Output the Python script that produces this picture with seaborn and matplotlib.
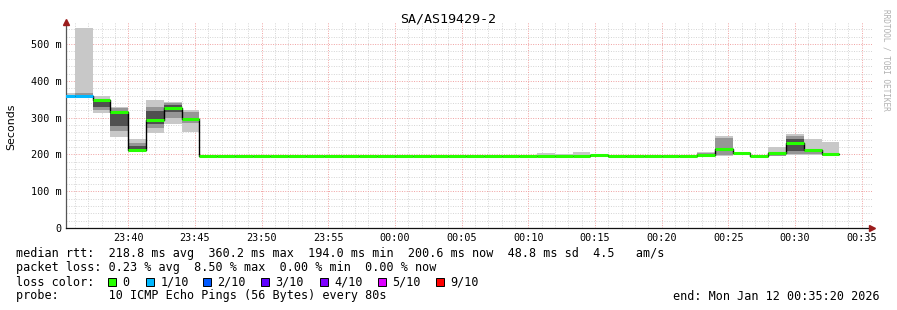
import numpy as np
import pandas as pd
import matplotlib
matplotlib.use("Agg")
import matplotlib.pyplot as plt
import matplotlib.dates as mdates
from matplotlib.patches import Rectangle
import seaborn as sns

# ---------------- data ----------------
title = "SA/AS19429-2"
first_step = "2026-01-11 23:34:40"
step_seconds = 80
view_start = "2026-01-11 23:35:20"
view_end = "2026-01-12 00:35:20"

nan = np.nan
median_ms = [360, 360, 348, 315, 212, 293, 325, 296, 195,
             195, 195, 195, 195, 195, 195, 195, 195, 195,
             195, 195, 195, 195, 195, 195, 195, 195, 195,
             196, 195, 196, 199,
             195, 195, 195, 195, 195,
             199, 216, 205, 196, 205, 232, 211, 201]
loss_level = [1, 1, 0, 0, 0, 0, 0, 0, 0,
              0, 0, 0, 0, 0, 0, 0, 0, 0,
              0, 0, 0, 0, 0, 0, 0, 0, 0,
              0, 0, 0, 0,
              0, 0, 0, 0, 0,
              0, 0, 0, 0, 0, 0, 0, 0]
smoke_lo = [353, 353, 313, 248, 207, 259, 283, 261, 195,
            nan, nan, nan, nan, nan, nan, nan, nan, nan,
            nan, nan, nan, nan, nan, nan, nan, nan, nan,
            195, 195, 195, 195,
            nan, nan, nan, nan, nan,
            196, 196, 196, nan, 196, 199, 199, 196]
smoke_hi = [367, 543, 359, 329, 242, 348, 343, 322, 214,
            nan, nan, nan, nan, nan, nan, nan, nan, nan,
            nan, nan, nan, nan, nan, nan, nan, nan, nan,
            204, 201, 206, 217,
            nan, nan, nan, nan, nan,
            206, 250, 225, nan, 221, 255, 242, 235]
mid_lo = [nan, 355, 322, 265, 210, 272, 300, 285, 195,
          nan, nan, nan, nan, nan, nan, nan, nan, nan,
          nan, nan, nan, nan, nan, nan, nan, nan, nan,
          nan, nan, nan, 196,
          nan, nan, nan, nan, nan,
          197, 199, 196, nan, 196, 202, 200, 196]
mid_hi = [nan, 366, 352, 325, 232, 330, 340, 315, 212,
          nan, nan, nan, nan, nan, nan, nan, nan, nan,
          nan, nan, nan, nan, nan, nan, nan, nan, nan,
          nan, nan, nan, 210,
          nan, nan, nan, nan, nan,
          203, 245, 210, nan, 206, 250, 216, 205]
core_lo = [nan, nan, 330, 278, 213, 282, 315, 290, nan,
           nan, nan, nan, nan, nan, nan, nan, nan, nan,
           nan, nan, nan, nan, nan, nan, nan, nan, nan,
           nan, nan, nan, nan,
           nan, nan, nan, nan, nan,
           nan, 203, nan, nan, nan, 210, 205, nan]
core_hi = [nan, nan, 345, 318, 222, 318, 335, 306, nan,
           nan, nan, nan, nan, nan, nan, nan, nan, nan,
           nan, nan, nan, nan, nan, nan, nan, nan, nan,
           nan, nan, nan, nan,
           nan, nan, nan, nan, nan,
           nan, 241, nan, nan, nan, 242, 220, nan]

loss_labels = ["0", "1/10", "2/10", "3/10", "4/10", "5/10", "9/10"]
loss_colors = ["#26ff00", "#00b8ff", "#0059ff", "#5e00ff", "#7e00ff", "#dd00ff", "#ff0000"]

y_ticks = [0, 100, 200, 300, 400, 500]
y_tick_labels = ["0", "100 m", "200 m", "300 m", "400 m", "500 m"]

stat_lines = [
    "median rtt:  218.8 ms avg  360.2 ms max  194.0 ms min  200.6 ms now  48.8 ms sd  4.5   am/s",
    "packet loss: 0.23 % avg  8.50 % max  0.00 % min  0.00 % now",
]
probe_line = "probe:       10 ICMP Echo Pings (56 Bytes) every 80s"
end_line = "end: Mon Jan 12 00:35:20 2026"

# ---------------- build ----------------
n = len(median_ms)
starts = pd.date_range(first_step, periods=n, freq=f"{step_seconds}s")
ends = starts + pd.Timedelta(seconds=step_seconds)
edges = mdates.date2num(list(starts) + [ends[-1]])
xs = mdates.date2num(starts)
xe = mdates.date2num(ends)

def ext(a):
    a = list(a)
    return np.array(a + [a[-1]], dtype=float)

df = pd.DataFrame({"t": edges, "median": ext(median_ms)})

sns.set_theme(style="white")
plt.rcParams["font.family"] = ["DejaVu Sans Mono"]

W, H = 897, 310
fig = plt.figure(figsize=(W / 100, H / 100), dpi=100)
fig.patch.set_facecolor("white")

def fx(px):
    return px / W

def fy(py):
    return 1 - py / H

x_left = pd.Timestamp(view_start)
x_right = pd.Timestamp(view_end) + pd.Timedelta(seconds=27)
px_per_min = 800 / 60
ax_w = (x_right - x_left).total_seconds() / 60 * px_per_min
ax = fig.add_axes([fx(66), fy(228), ax_w / W, 206 / H])
ax.set_facecolor("white")

# smoke
ax.fill_between(edges, ext(smoke_lo), ext(smoke_hi), step="post", color="#c8c8c8", lw=0, zorder=2)
ax.fill_between(edges, ext(mid_lo), ext(mid_hi), step="post", color="#969696", lw=0, zorder=2.1)
ax.fill_between(edges, ext(core_lo), ext(core_hi), step="post", color="#505050", lw=0, zorder=2.2)

# median step line (black)
sns.lineplot(data=df, x="t", y="median", drawstyle="steps-post", color="black",
             lw=1.0, estimator=None, ax=ax, zorder=3)

# coloured median according to loss
ax.hlines(median_ms, xs, xe, colors=[loss_colors[l] for l in loss_level], lw=2.2, zorder=4)

ax.set_xlim(mdates.date2num(x_left), mdates.date2num(x_right))
ax.set_ylim(0, 560)

ax.xaxis.set_major_locator(mdates.MinuteLocator(byminute=range(0, 60, 5)))
ax.xaxis.set_major_formatter(mdates.DateFormatter("%H:%M"))
ax.xaxis.set_minor_locator(mdates.MinuteLocator())
ax.set_yticks(y_ticks)
ax.set_yticklabels(y_tick_labels)
ax.set_yticks(np.arange(0, 560, 20), minor=True)

ax.grid(which="minor", color="#d4d4d4", lw=0.7, ls=(0, (1, 1.5)), zorder=1)
ax.grid(which="major", color="#f0a0a0", lw=0.7, ls=(0, (1, 1.5)), zorder=1.05)
ax.set_axisbelow(True)

ax.tick_params(axis="both", which="major", labelsize=7.3, colors="#000000",
               length=3, width=0.6, direction="inout", pad=1.8)
ax.tick_params(axis="both", which="major", color="#f08080")
ax.tick_params(axis="both", which="minor", length=2.5, width=0.6, direction="inout", color="#aaaaaa")

for s in ["top", "right"]:
    ax.spines[s].set_visible(False)
ax.spines["left"].set_color("#555555")
ax.spines["bottom"].set_color("#111111")
ax.spines["left"].set_linewidth(0.9)
ax.spines["bottom"].set_linewidth(0.9)
ax.set_xlabel("")
ax.set_ylabel("")

arrow_c = "#9b1c1c"
ax.plot([1], [0], marker=">", ms=4, color=arrow_c, transform=ax.transAxes, clip_on=False, zorder=6)
ax.plot([0], [1], marker="^", ms=4, color=arrow_c, transform=ax.transAxes, clip_on=False, zorder=6)

# texts
fs = 8.45
fig.text(fx(448.5), fy(19), title, ha="center", va="center", fontsize=9.6, color="black")
fig.text(fx(11), fy(127), "Seconds", rotation=90, ha="center", va="center", fontsize=7.9,
         color="black", family=["DejaVu Sans"])
fig.text(fx(886), fy(60), "RRDTOOL / TOBI OETIKER", rotation=270, ha="center", va="center",
         fontsize=5.6, color="#b0b0b0")

def put(xp, yp, s, ha="left"):
    fig.text(fx(xp), fy(yp), s, ha=ha, va="center", fontsize=fs, color="black")

for i, line in enumerate(stat_lines):
    put(16, 254 + 14 * i, line)

put(16, 282, "loss color:")
box_x = [108, 146, 203, 261, 320, 378, 436]
for bx, lab, col in zip(box_x, loss_labels, loss_colors):
    fig.patches.append(Rectangle((fx(bx), fy(286)), 8 / W, 8 / H, transform=fig.transFigure,
                                 facecolor=col, edgecolor="black", lw=0.7))
    put(bx + 14.5, 282, lab)

put(16, 296, probe_line)
put(880, 296, end_line, ha="right")

fig.savefig("out.png", dpi=100, facecolor="white")
